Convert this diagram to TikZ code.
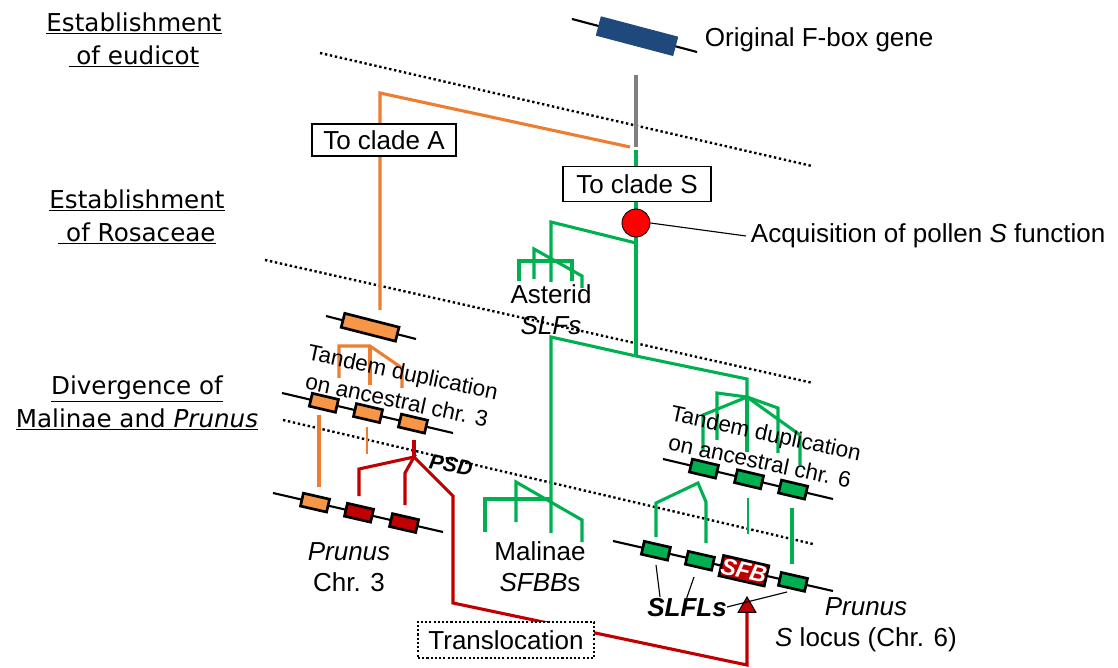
\documentclass[tikz,border=0pt]{standalone}
\usepackage{fontspec}
\setmainfont{Liberation Sans}
\newfontfamily\erafont{DejaVu Sans}
\usetikzlibrary{arrows.meta, positioning, calc}

\definecolor{fboxblue}{RGB}{31,73,125}
\definecolor{cladeA}{RGB}{237,125,49}
\definecolor{geneA}{RGB}{247,150,70}
\definecolor{cladeS}{RGB}{0,176,80}
\definecolor{psdred}{RGB}{192,0,0}

\begin{document}
\begin{tikzpicture}[x=0.025cm, y=-0.025cm,
    every node/.style={font=\fontsize{18.5}{22}\selectfont},
    era/.style={font=\erafont\fontsize{17.5}{23.5}\selectfont, align=center},
    epoch/.style={line width=1.7pt, dash pattern=on 1.7pt off 1.9pt},
    branch/.style={line width=2.2pt},
    twig/.style={line width=1.1pt},
    chrom/.style={line width=1.5pt},
    gene/.style={draw, line width=1.9pt, minimum width=0.67cm, minimum height=0.33cm, inner sep=0pt, sloped},
    tagbox/.style={draw, fill=white, line width=0.9pt, minimum height=0.8cm},
    tandem/.style={font=\fontsize{16}{20.5}\selectfont, align=center, rotate=-12}]
  \useasboundingbox (0,0) rectangle (1118,668);

  % time levels on the left
  \node[era] (eudicot) at (134,40) {\underline{Establishment}\\\underline{~of eudicot}};
  \node[era] (rosaceae) at (137,217) {\underline{Establishment}\\\underline{~of Rosaceae}};
  \node[era] (divergence) at (137,403) {\underline{Divergence of}\\\underline{Malinae and \textit{Prunus}}};

  \draw[epoch] (320,53) -- (812,166);
  \draw[epoch] (265,260) -- (813,383);
  \draw[epoch] (283,420) -- (813,544);

  % original gene
  \draw[chrom] (572,19) -- (697,52)
    node[gene, pos=0.52, draw=none, fill=fboxblue, minimum width=2cm, minimum height=0.5cm] (fbox) {};
  \node[anchor=west] (fboxlbl) at (700,40) {Original F-box gene};

  % split into clade A and clade S
  \draw[branch, gray] (636,75) -- (636,147);
  \draw[branch, cladeA] (630,147) -- (380,93) -- (380,310);
  \draw[branch, cladeS] (636,150) -- (636,357);
  \node[tagbox, minimum width=3.6cm] (cladeAbox) at (384,140) {To clade A};
  \node[tagbox, minimum width=3.7cm, minimum height=0.87cm] (cladeSbox) at (637,184) {To clade S};

  \node[circle, draw, fill=red, minimum size=0.7cm, inner sep=0pt, line width=0.6pt] (pollen) at (636,223) {};
  \node[anchor=west] (pollenlbl) at (746,236) {Acquisition of pollen \textit{S} function};
  \draw[line width=0.8pt] (pollen.east) -- (pollenlbl.west);

  % asterid SLFs
  \draw[branch, cladeS] (636,243) -- (551,222) -- (551,282);
  \draw[branch, cladeS] (519,281) -- (519,261) -- (572,261) -- (572,281);
  \draw[branch, cladeS] (534,279) -- (534,249) -- (582,276) -- (582,288);
  \node[align=center] (asterid) at (551,310) {Asterid\\\textit{SLFs}};

  % Rosaceae: Malinae and Prunus
  \draw[branch, cladeS] (551,533) -- (551,337) -- (636,356) -- (747,379) -- (747,397);
  \draw[branch, cladeS] (485,532) -- (485,499) -- (551,499);
  \draw[branch, cladeS] (516,522) -- (516,482) -- (582,520) -- (582,542);
  \node[align=center] (malinae) at (540,567) {Malinae\\\textit{SFBB}s};

  % tandem duplication, chr. 6
  \draw[branch, cladeS] (703,450) -- (703,415) -- (747,397) -- (800,435) -- (800,465);
  \draw[branch, cladeS] (717,440) -- (717,393) -- (747,397) -- (778,408) -- (778,453);
  \draw[branch, cladeS] (747,397) -- (747,452);
  \draw[chrom] (663,459) -- (833,499)
    node[gene, fill=cladeS, pos=0.241] (c6a) {}
    node[gene, fill=cladeS, pos=0.506] (c6b) {}
    node[gene, fill=cladeS, pos=0.765] (c6c) {};
  \node[tandem] (tandemS) at (763,447) {Tandem duplication\\on ancestral chr. 6};

  \draw[branch, cladeS] (656,537) -- (656,503) -- (698,483) -- (706,502) -- (706,543);
  \draw[twig, cladeS] (748,498) -- (748,534);
  \draw[branch, cladeS] (792,508) -- (792,564);

  % clade A, tandem duplication on chr. 3
  \draw[chrom] (326,316) -- (416,339)
    node[gene, fill=geneA, pos=0.49, minimum width=1.4cm, minimum height=0.36cm] (ancA) {};
  \draw[branch, cladeA] (339,378) -- (339,346) -- (370,346) -- (402,368) -- (402,388);
  \draw[branch, cladeA] (370,346) -- (370,385);
  \draw[chrom] (282,393) -- (453,433)
    node[gene, fill=geneA, pos=0.245] (c3a) {}
    node[gene, fill=geneA, pos=0.503] (c3b) {}
    node[gene, fill=geneA, pos=0.766] (c3c) {};
  \node[tandem] (tandemA) at (400,386) {Tandem duplication\\on ancestral chr. 3};

  \draw[branch, cladeA] (319,415) -- (319,487);
  \draw[twig, cladeA] (367,427) -- (367,454);

  % PSD and translocation to the S locus
  \draw[branch, psdred] (414,440) -- (414,457);
  \draw[branch, psdred] (359,496) -- (359,469) -- (414,457) -- (405,473) -- (405,505);
  \draw[branch, psdred, -{Triangle[width=0.48cm 0, length=0.42cm 0 0, fill=psdred, color=black, line width=0.7pt]}]
    (414,457) -- (453,496) -- (453,603) -- (747,665) -- (747,596);
  \node[font=\bfseries\itshape\fontsize{15}{15}\selectfont, rotate=-10] (psd) at (451,465) {PSD};
  \node[tagbox, dash pattern=on 1.5pt off 1.5pt, line width=1.3pt, minimum width=4.4cm, minimum height=0.92cm] (transloc) at (506,640) {Translocation};

  % Prunus chr. 3
  \draw[chrom] (273,493) -- (443,532)
    node[gene, fill=geneA, pos=0.247] (p3a) {}
    node[gene, fill=psdred, pos=0.506] (p3b) {}
    node[gene, fill=psdred, pos=0.771] (p3c) {};
  \node[align=center] (prunus3) at (349,567) {\textit{Prunus}\\Chr. 3};

  % Prunus S locus
  \draw[chrom] (613,541) -- (833,591)
    node[gene, fill=cladeS, pos=0.195] (slA) {}
    node[gene, fill=cladeS, pos=0.395] (slB) {}
    node[gene, fill=psdred, pos=0.595, minimum width=1.08cm, minimum height=0.52cm, text=white,
      font=\bfseries\itshape\fontsize{16.5}{16.5}\selectfont] (sfb) {SFB}
    node[gene, fill=cladeS, pos=0.818] (slC) {};
  \node[font=\bfseries\itshape\fontsize{18.5}{18.5}\selectfont] (slfl) at (687,608) {SLFLs};
  \draw[line width=0.8pt] (656,565) -- (660,597);
  \draw[line width=0.8pt] (694,577) -- (686,600);
  \draw[line width=0.8pt] (787,592) -- (727,607);
  \node[align=center] (slocus) at (866,625) {\textit{Prunus}\\\textit{S} locus (Chr. 6)};
\end{tikzpicture}
\end{document}
